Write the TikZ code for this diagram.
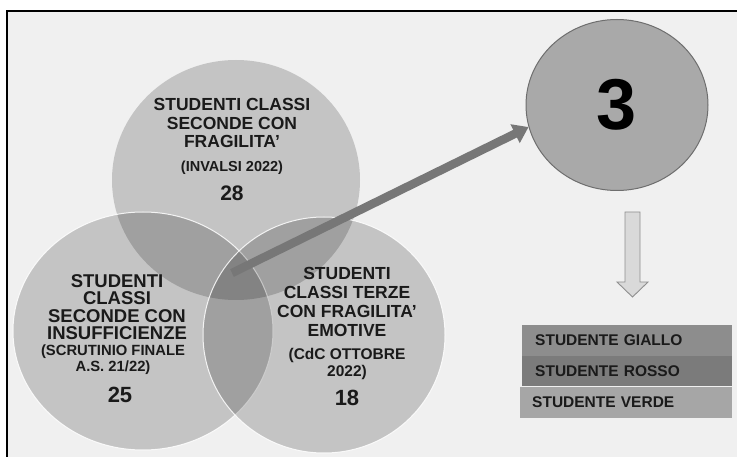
\documentclass[tikz,border=0pt]{standalone}
\usepackage{fontspec}
\setmainfont{Liberation Sans}
\usetikzlibrary{shapes.geometric,arrows.meta}
\definecolor{bgc}{HTML}{F0F0F0}
\definecolor{arrowc}{HTML}{777777}
\definecolor{threec}{HTML}{A9A9A9}
\definecolor{threeb}{HTML}{6E6E6E}
\definecolor{legA}{HTML}{8D8D8D}
\definecolor{legB}{HTML}{7B7B7B}
\definecolor{legC}{HTML}{A6A6A6}
\definecolor{downc}{HTML}{D9D9D9}
\definecolor{downb}{HTML}{8F8F8F}
\definecolor{txtc}{HTML}{1A1A1A}
\begin{document}
\begin{tikzpicture}[x=1pt,y=-1pt,
  venn/.style={ellipse, inner sep=0pt, fill=black, fill opacity=0.18, draw=white, draw opacity=0.85, line width=1pt},
  txt/.style={align=center, inner sep=0pt, text=txtc, font=\bfseries},
  leg/.style={rectangle, anchor=north west, align=left, inner ysep=0pt, minimum height=30.5pt, text=txtc, font=\fontsize{15.5}{17}\selectfont\bfseries}
]
\useasboundingbox (0,0) rectangle (737,457);
\fill[white] (0,0) rectangle (737,457);
\fill[bgc] (7,11) rectangle (737,457);
\draw[black, line width=1.2pt] (7,457) -- (7,11) -- (737,11);

% Venn circles
\node[venn, draw=none, minimum width=248pt, minimum height=240pt] (ctop) at (236,180) {};
\node[venn, minimum width=260pt, minimum height=238pt] (cleft) at (143,331) {};
\node[venn, minimum width=242pt, minimum height=236pt] (cright) at (324,335) {};

% texts top circle
\node[txt, font=\fontsize{17.5}{18.8}\selectfont\bfseries] (ttop) at (232,123) {STUDENTI CLASSI\\SECONDE CON\\FRAGILITA'};
\node[txt, font=\fontsize{14.5}{16}\selectfont\bfseries] (stop) at (232,168) {(INVALSI 2022)};
\node[txt, font=\fontsize{21}{24}\selectfont\bfseries] (ntop) at (232,193) {28};

% texts left circle
\node[txt, font=\fontsize{18.5}{17.3}\selectfont\bfseries] (tleft) at (117,307) {STUDENTI\\CLASSI\\SECONDE CON\\INSUFFICIENZE};
\node[txt, font=\fontsize{14.8}{15.8}\selectfont\bfseries] (sleft) at (113,360) {(SCRUTINIO FINALE\\A.S. 21/22)};
\node[txt, font=\fontsize{22}{24}\selectfont\bfseries] (nleft) at (120,395) {25};

% texts right circle
\node[txt, font=\fontsize{17.5}{19}\selectfont\bfseries] (tright) at (347,302) {STUDENTI\\CLASSI TERZE\\CON FRAGILITA'\\EMOTIVE};
\node[txt, font=\fontsize{15.5}{17}\selectfont\bfseries] (sright) at (347,364) {(CdC OTTOBRE\\2022)};
\node[txt, font=\fontsize{22}{24}\selectfont\bfseries] (nright) at (347,398) {18};

% result circle
\node[ellipse, minimum width=182pt, minimum height=171pt, fill=threec, draw=threeb, line width=1pt, inner sep=0pt,
      font=\fontsize{72}{72}\selectfont\bfseries] (c3) at (617,105) {3};

% big arrow
\coordinate (tail) at (232,273);
\draw[arrowc, line width=8.5pt, -{Triangle[length=15pt,width=20pt]}] (tail) -- (c3.194);

% down block arrow
\draw[downb, fill=downc, line width=0.9pt]
  (625,212) -- (640,212) -- (640,282) -- (648,282) -- (632.5,297) -- (617,282) -- (625,282) -- cycle;

% legend
\node[leg, fill=legA, inner xsep=13pt, text width=184pt] (lg1) at (522,325) {STUDENTE GIALLO};
\node[leg, fill=legB, inner xsep=13pt, text width=184pt] (lg2) at (522,355.5) {STUDENTE ROSSO};
\node[leg, fill=legC, inner xsep=12pt, text width=188pt] (lg3) at (520,387) {STUDENTE VERDE};
\end{tikzpicture}
\end{document}
